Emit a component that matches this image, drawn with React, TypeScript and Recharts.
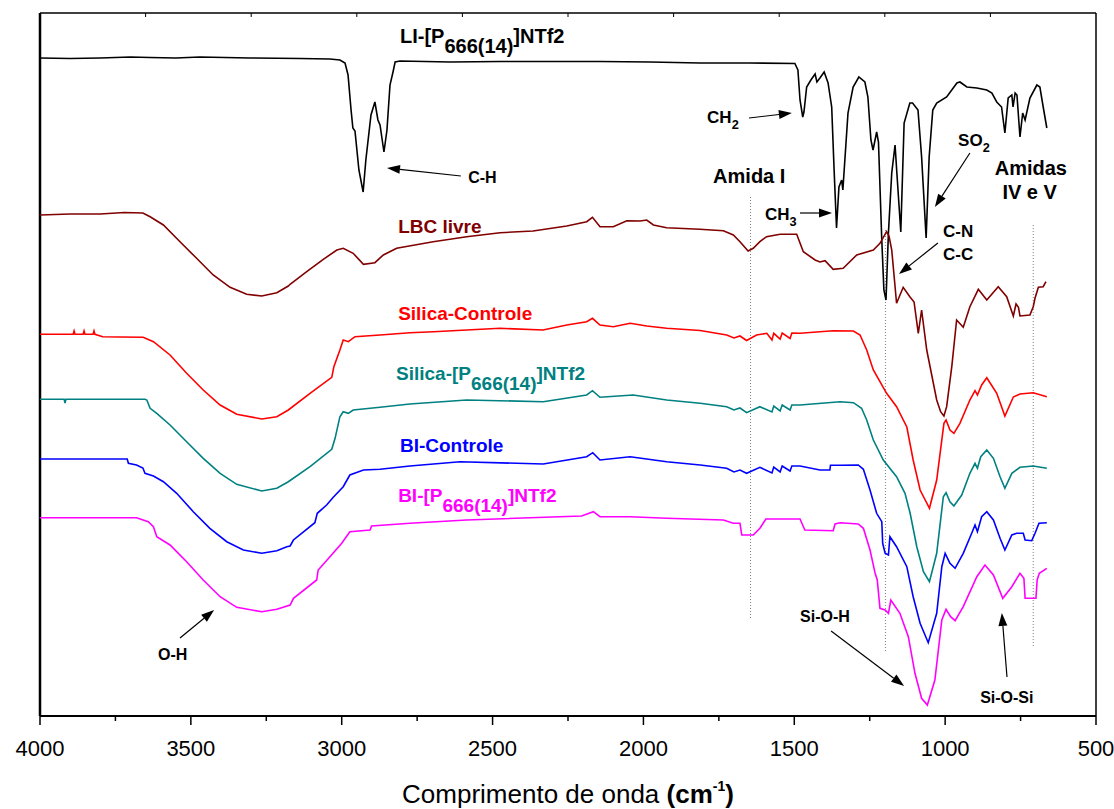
import React from 'react';
import { LineChart, Line, XAxis, YAxis, ReferenceLine, ReferenceDot } from 'recharts';

// FTIR spectra: [wavenumber cm-1, transmittance offset (a.u.)]
const liSpectrum: [number, number][] = [
  [4000, 658], [3900, 657.5], [3801, 658], [3700, 659], [3635, 658.5], [3550, 658], [3470, 659],
  [3304, 658], [3138, 657.5], [3039, 657], [3006, 656], [2989, 653], [2979, 641], [2969, 606],
  [2963, 588], [2956, 585], [2943, 546], [2929, 524], [2920, 556], [2903, 601], [2890, 614],
  [2880, 596], [2873, 591], [2860, 564], [2850, 586], [2840, 631], [2830, 644], [2823, 654],
  [2807, 655], [2641, 654], [2475, 654.5], [2310, 654.5], [2144, 654.5], [1978, 654], [1813, 653],
  [1647, 653], [1498, 652.5], [1488, 646], [1481, 616], [1472, 599], [1468, 604], [1459, 629],
  [1445, 636], [1431, 642], [1425, 634], [1415, 638], [1401, 644], [1388, 633], [1376, 609],
  [1368, 546], [1360, 488], [1352, 529], [1343, 536], [1339, 526], [1322, 603], [1305, 629],
  [1286, 639], [1266, 634], [1256, 619], [1246, 576], [1239, 566], [1227, 584], [1221, 574],
  [1210, 476], [1203, 426], [1196, 416], [1188, 483], [1177, 543], [1166, 571], [1160, 543],
  [1147, 484], [1136, 593], [1117, 613], [1108, 613], [1090, 606], [1078, 559], [1063, 478],
  [1053, 559], [1041, 606], [1028, 613], [995, 619], [961, 633], [951, 634], [928, 629],
  [895, 628], [862, 626], [845, 623], [829, 614], [813, 609], [802, 583], [791, 618], [779, 621],
  [775, 609], [768, 623], [762, 621], [752, 579], [743, 603], [735, 596], [719, 618], [696, 631],
  [686, 629], [675, 609], [663, 588],
];

const lbcSpectrum: [number, number][] = [
  [4000, 501], [3900, 502], [3801, 502], [3720, 503.5], [3659, 503], [3635, 499.3], [3591, 491],
  [3536, 474.3], [3481, 457.7], [3426, 441], [3370, 428.7], [3315, 421.7], [3265, 420],
  [3215, 423.3], [3177, 430], [3170, 432], [3116, 444.3], [3061, 456.7], [3016, 466], [2995, 467.7],
  [2962, 462.7], [2928, 451.7], [2890, 453.3], [2862, 461], [2818, 467.7], [2697, 474.3],
  [2586, 479.3], [2475, 483.3], [2366, 485], [2254, 490], [2188, 494.3], [2169, 498.7],
  [2144, 489.3], [2100, 489.3], [2055, 495.3], [2011, 495], [1989, 496], [1967, 491], [1923, 488.3],
  [1813, 486.7], [1735, 485.3], [1702, 481], [1680, 474.3], [1653, 465], [1636, 467.7],
  [1614, 474.3], [1592, 479.3], [1547, 481.7], [1492, 481.7], [1470, 464.3], [1431, 456],
  [1415, 454], [1398, 455.3], [1371, 446.7], [1338, 447.7], [1293, 461], [1238, 466], [1216, 472.7],
  [1194, 484.3], [1186, 480], [1177, 466], [1161, 412.7], [1139, 428.7], [1117, 419.3],
  [1103, 414], [1089, 382.7], [1078, 406], [1061, 366], [1028, 316], [1015, 304.3], [1004, 300],
  [995, 309.3], [978, 349.3], [962, 396], [940, 388.7], [918, 409.3], [890, 426.7], [862, 416],
  [824, 429.3], [796, 419.3], [774, 400], [765, 412], [757, 408.7], [752, 400], [719, 401],
  [708, 409.3], [702, 418], [691, 428.7], [675, 429.3], [666, 434.3],
];

const silicaCtrlSpectrum: [number, number][] = [
  [4000, 381.7], [3890, 381.7], [3887, 385], [3884, 381.7], [3857, 381.7], [3854, 385],
  [3851, 381.7], [3824, 381.7], [3821, 385], [3818, 381.7], [3792, 379.3], [3735, 379],
  [3658, 378.7], [3624, 374.3], [3569, 361], [3514, 342.7], [3459, 326], [3403, 311], [3348, 301.7],
  [3265, 297], [3215, 299.3], [3177, 306], [3105, 322.7], [3033, 338.7], [3026, 349.3], [3006, 366],
  [2995, 376], [2978, 374.3], [2956, 379.3], [2873, 381], [2774, 383.3], [2696, 384.3],
  [2475, 387.7], [2333, 386], [2254, 391], [2188, 394.3], [2169, 397.7], [2144, 391], [2100, 389.3],
  [2044, 392.7], [1989, 390], [1923, 387.7], [1812, 385.5], [1724, 381], [1700, 378], [1680, 380],
  [1658, 375.5], [1625, 381], [1591, 382.7], [1574, 376], [1568, 382.7], [1547, 377], [1540, 383],
  [1514, 377.5], [1508, 383], [1481, 382.7], [1371, 385.3], [1304, 385], [1282, 381], [1260, 366],
  [1238, 346], [1194, 322.7], [1161, 309.3], [1127, 289], [1106, 256], [1083, 226], [1052, 207.7],
  [1028, 236], [1004, 292.7], [997, 296], [984, 286], [971, 282.7], [951, 292.7], [918, 316],
  [901, 325.3], [893, 321], [879, 331], [862, 338.3], [829, 322.7], [802, 300], [774, 319],
  [752, 322], [708, 323.3], [663, 319.3],
];

const silicaIlSpectrum: [number, number][] = [
  [4000, 316.7], [3920, 316.7], [3917, 313], [3914, 316.7], [3652, 316.7], [3646, 316],
  [3635, 307.7], [3613, 302.7], [3569, 291], [3514, 274.3], [3459, 257.7], [3403, 242.7],
  [3348, 231.7], [3265, 225], [3215, 227.7], [3177, 234.3], [3105, 249.3], [3033, 266.7],
  [3022, 277.7], [3006, 299.3], [2995, 304.3], [2978, 302.7], [2962, 306], [2873, 308.7],
  [2774, 312], [2586, 316], [2332, 314.3], [2188, 321], [2169, 325.3], [2144, 318.7], [2034, 321],
  [1923, 316], [1812, 312.7], [1724, 309.3], [1700, 306], [1680, 308], [1658, 303.3], [1614, 309.3],
  [1574, 304], [1568, 310], [1547, 305], [1540, 311], [1514, 306], [1508, 311], [1481, 311],
  [1348, 314.3], [1304, 313.3], [1277, 307.7], [1260, 296], [1238, 276], [1205, 256], [1161, 239.3],
  [1133, 222.7], [1116, 202.7], [1094, 169.3], [1072, 144.3], [1052, 134.3], [1028, 162.7],
  [1006, 219.3], [997, 223.3], [984, 214.3], [971, 210], [945, 221], [918, 242.7], [901, 252.7],
  [893, 247.7], [882, 259.3], [862, 266], [840, 257.7], [818, 239.3], [802, 227.7], [779, 242.7],
  [752, 248.7], [708, 250], [663, 247.7],
];

const biCtrlSpectrum: [number, number][] = [
  [4000, 257], [3711, 257], [3707, 252.7], [3680, 251], [3659, 248], [3652, 242.7], [3624, 240],
  [3591, 234.3], [3547, 222.7], [3492, 204.3], [3437, 187.7], [3381, 174.3], [3326, 166],
  [3265, 162.7], [3215, 165.3], [3182, 169.3], [3171, 170], [3160, 176], [3089, 193.3],
  [3081, 202.7], [3050, 211], [3028, 218.7], [2995, 229.3], [2973, 241], [2928, 246], [2873, 246.7],
  [2774, 250], [2608, 254.3], [2332, 252], [2188, 259.3], [2168, 263.3], [2144, 256], [2044, 259.3],
  [1923, 254.3], [1812, 251], [1724, 247.7], [1700, 244], [1680, 246], [1658, 242.7], [1614, 248.7],
  [1574, 243], [1568, 249], [1547, 244], [1540, 250], [1514, 245], [1508, 250], [1481, 250],
  [1415, 246], [1382, 246], [1380, 250.7], [1348, 250.7], [1288, 251], [1271, 246.7], [1249, 226],
  [1227, 202.7], [1210, 194.3], [1207, 172.7], [1199, 162.7], [1188, 161], [1183, 179.3],
  [1161, 169.3], [1127, 149.3], [1106, 119.3], [1083, 92.7], [1056, 73.3], [1028, 102.7],
  [1011, 149.3], [1000, 162.7], [984, 152.7], [967, 147.7], [940, 162.7], [912, 182.7], [901, 191],
  [893, 184.3], [879, 199.3], [862, 204.3], [840, 196], [818, 177.7], [802, 166], [779, 181],
  [763, 182.7], [741, 182.7], [735, 176], [713, 175.3], [702, 182.7], [689, 192.7], [663, 193.3],
];

const biIlSpectrum: [number, number][] = [
  [4000, 198.3], [3680, 198.3], [3641, 194.3], [3624, 189.3], [3613, 179.3], [3569, 171],
  [3514, 154.3], [3459, 136], [3403, 119.3], [3348, 108.7], [3265, 104.3], [3215, 106.7],
  [3171, 111], [3160, 117.7], [3083, 136], [3078, 146], [3039, 159.3], [3000, 172.7], [2973, 184.3],
  [2906, 186], [2901, 190], [2774, 192.7], [2586, 196], [2205, 200], [2166, 204.3], [2144, 199.3],
  [2044, 199.3], [1923, 197.7], [1735, 196], [1702, 192.7], [1680, 192.7], [1674, 181],
  [1636, 181], [1614, 187.7], [1594, 197], [1481, 197], [1465, 186], [1371, 185.3], [1365, 192],
  [1348, 193.3], [1288, 192], [1271, 187.7], [1249, 166], [1232, 142.7], [1225, 136], [1216, 107.7],
  [1199, 106], [1188, 102.7], [1180, 116], [1150, 102.7], [1122, 79.3], [1100, 42.7], [1078, 17.7],
  [1059, 11], [1034, 36], [1011, 96], [997, 106.7], [982, 99.3], [967, 95.3], [940, 109.3],
  [895, 139.3], [868, 151], [840, 141], [809, 117.7], [779, 129.3], [752, 142.7], [739, 137.7],
  [735, 117.7], [699, 117.7], [695, 136], [688, 142.7], [663, 147.7],
];

const series = [
  { name: 'LI', data: liSpectrum, color: '#000000' },
  { name: 'LBC livre', data: lbcSpectrum, color: '#800000' },
  { name: 'Silica-Controle', data: silicaCtrlSpectrum, color: '#FF0000' },
  { name: 'Silica-IL', data: silicaIlSpectrum, color: '#008080' },
  { name: 'BI-Controle', data: biCtrlSpectrum, color: '#0000FF' },
  { name: 'BI-IL', data: biIlSpectrum, color: '#FF00FF' },
];

const X_MIN = 500;
const X_MAX = 4000;
const Y_TOP = 703;

const bottomTicks = [4000, 3750, 3500, 3250, 3000, 2750, 2500, 2250, 2000, 1750, 1500, 1250, 1000, 750, 500];
const topTicks = [3650, 3300, 2950, 2600, 2250, 1900, 1550, 1200, 850];

// dotted guide lines: [wavenumber, top, bottom]
const guides: [number, number, number][] = [
  [1645, 519, 96],
  [1198, 486, 64],
  [708, 491, 69],
];

type Part = [string, 'n' | 'sub' | 'sup'];
type Note = { wn: number; t: number; size: number; color: string; parts: Part[]; anchor?: 'start' | 'middle' };

const IL: Part[] = [['-[P', 'n'], ['666(14)', 'sub'], [']NTf2', 'n']];

const notes: Note[] = [
  { wn: 2807, t: 673, size: 20, color: '#000', parts: [['LI', 'n'], ...IL] },
  { wn: 2581, t: 533, size: 16, color: '#000', parts: [['C-H', 'n']] },
  { wn: 1789, t: 593, size: 17, color: '#000', parts: [['CH', 'n'], ['2', 'sub']] },
  { wn: 1769, t: 533, size: 20, color: '#000', parts: [['Amida I', 'n']] },
  { wn: 1597, t: 496, size: 17, color: '#000', parts: [['CH', 'n'], ['3', 'sub']] },
  { wn: 957, t: 570, size: 17, color: '#000', parts: [['SO', 'n'], ['2', 'sub']] },
  { wn: 716, t: 541, size: 20, color: '#000', parts: [['Amidas', 'n']], anchor: 'middle' },
  { wn: 720, t: 517, size: 20, color: '#000', parts: [['IV e V', 'n']], anchor: 'middle' },
  { wn: 1007, t: 479, size: 17, color: '#000', parts: [['C-N', 'n']] },
  { wn: 1007, t: 456, size: 17, color: '#000', parts: [['C-C', 'n']] },
  { wn: 2813, t: 483, size: 19, color: '#800000', parts: [['LBC livre', 'n']] },
  { wn: 2813, t: 396, size: 19, color: '#FF0000', parts: [['Silica-Controle', 'n']] },
  { wn: 2820, t: 336, size: 19, color: '#008080', parts: [['Silica', 'n'], ...IL] },
  { wn: 2807, t: 264, size: 19, color: '#0000FF', parts: [['BI-Controle', 'n']] },
  { wn: 2813, t: 214, size: 19, color: '#FF00FF', parts: [['BI', 'n'], ...IL] },
  { wn: 3609, t: 56, size: 16, color: '#000', parts: [['O-H', 'n']] },
  { wn: 1481, t: 94, size: 16, color: '#000', parts: [['Si-O-H', 'n']] },
  { wn: 884, t: 13, size: 16, color: '#000', parts: [['Si-O-Si', 'n']] },
];

// arrows: tail -> head
const arrows: [number, number, number, number][] = [
  [2605, 540, 2850, 548],
  [1650, 598, 1508, 603],
  [1481, 503, 1375, 503],
  [918, 563, 1034, 509],
  [1024, 473, 1153, 442],
  [3536, 78, 3423, 106],
  [1378, 85, 1136, 30],
  [795, 39, 812, 103],
];

const FONT = '"Liberation Sans", Arial, Helvetica, sans-serif';

const BottomTick = (props: any) => {
  const { x, y, payload } = props;
  const major = payload.value % 500 === 0;
  return (
    <g>
      <line x1={x} x2={x} y1={y} y2={y + (major ? 9 : 5)} stroke="#000" strokeWidth={1.5} />
      {major && (
        <text x={x} y={y + 40} textAnchor="middle" fontSize={22} fontFamily={FONT} fill="#000">
          {payload.value}
        </text>
      )}
    </g>
  );
};

const AxisTitle = (props: any) => {
  const vb = props.viewBox || {};
  const cx = vb.x + vb.width / 2;
  return (
    <text x={cx} y={vb.y + 87} textAnchor="middle" fontSize={26} fontFamily={FONT} fill="#000">
      <tspan>Comprimento de onda </tspan>
      <tspan fontWeight="bold">(cm</tspan>
      <tspan fontSize={14} fontWeight="bold" dy={-12}>-1</tspan>
      <tspan fontWeight="bold" dy={12}>)</tspan>
    </text>
  );
};

const NoteText = ({ cx, cy, note }: { cx: number; cy: number; note: Note }) => {
  let shift = 0;
  return (
    <text x={cx} y={cy} fontSize={note.size} fontWeight="bold" fontFamily={FONT} fill={note.color}
      textAnchor={note.anchor || 'start'}>
      {note.parts.map(([s, kind], i) => {
        const big = s.length > 1;
        const target = kind === 'sub' ? (big ? 10 : 6) : kind === 'sup' ? -8 : 0;
        const dy = target - shift;
        shift = target;
        const fs = kind === 'n' || big ? undefined : note.size * 0.75;
        return (
          <tspan key={i} dy={dy} fontSize={fs}>{s}</tspan>
        );
      })}
    </text>
  );
};

const Arrow = (p: any) => {
  const { x1, y1, x2, y2 } = p;
  const ang = Math.atan2(y2 - y1, x2 - x1);
  const len = 13;
  const w = 4.5;
  const bx = x2 - len * Math.cos(ang);
  const by = y2 - len * Math.sin(ang);
  const nx = -Math.sin(ang) * w;
  const ny = Math.cos(ang) * w;
  return (
    <g>
      <line x1={x1} y1={y1} x2={bx} y2={by} stroke="#000" strokeWidth={1.2} />
      <polygon points={`${x2},${y2} ${bx + nx},${by + ny} ${bx - nx},${by - ny}`} fill="#000" />
    </g>
  );
};

export default function App() {
  return (
    <div style={{ position: 'absolute', left: 8, top: 8, width: 1106, height: 800 }}>
      <LineChart width={1106} height={800} margin={{ top: 5, right: 18, left: 32, bottom: 0 }}>
        <XAxis dataKey="wn" type="number" domain={[X_MIN, X_MAX]} reversed allowDataOverflow
          ticks={bottomTicks} interval={0} tickSize={0} tickMargin={0} tickLine={false}
          tick={<BottomTick />} height={92} axisLine={{ stroke: '#000', strokeWidth: 2 }}
          label={<AxisTitle />} />
        <YAxis type="number" domain={[0, Y_TOP]} allowDataOverflow hide />

        {/* frame */}
        <ReferenceLine x={X_MAX} stroke="#000" strokeWidth={2.5} ifOverflow="visible" />
        <ReferenceLine x={X_MIN} stroke="#000" strokeWidth={1.5} ifOverflow="visible" />
        <ReferenceLine y={Y_TOP} stroke="#000" strokeWidth={1.5} ifOverflow="visible" />
        {topTicks.map((wn) => (
          <ReferenceLine key={'t' + wn} segment={[{ x: wn, y: Y_TOP }, { x: wn, y: Y_TOP - 4 }]}
            stroke="#000" strokeWidth={1} ifOverflow="visible" />
        ))}

        {guides.map(([wn, top, bot]) => (
          <ReferenceLine key={'g' + wn} segment={[{ x: wn, y: top }, { x: wn, y: bot }]}
            stroke="#808080" strokeWidth={1} strokeDasharray="1 2" />
        ))}

        {series.map((s) => (
          <Line key={s.name} data={s.data.map(([wn, t]) => ({ wn, t }))} dataKey="t" type="linear"
            stroke={s.color} strokeWidth={1.6} dot={false} activeDot={false} isAnimationActive={false} />
        ))}

        {arrows.map(([xa, ya, xb, yb], i) => (
          <ReferenceLine key={'a' + i} segment={[{ x: xa, y: ya }, { x: xb, y: yb }]}
            shape={(p: any) => <Arrow {...p} />} />
        ))}

        {notes.map((n, i) => (
          <ReferenceDot key={'n' + i} x={n.wn} y={n.t} r={0}
            shape={(p: any) => <NoteText cx={p.cx} cy={p.cy} note={n} />} />
        ))}
      </LineChart>
    </div>
  );
}
